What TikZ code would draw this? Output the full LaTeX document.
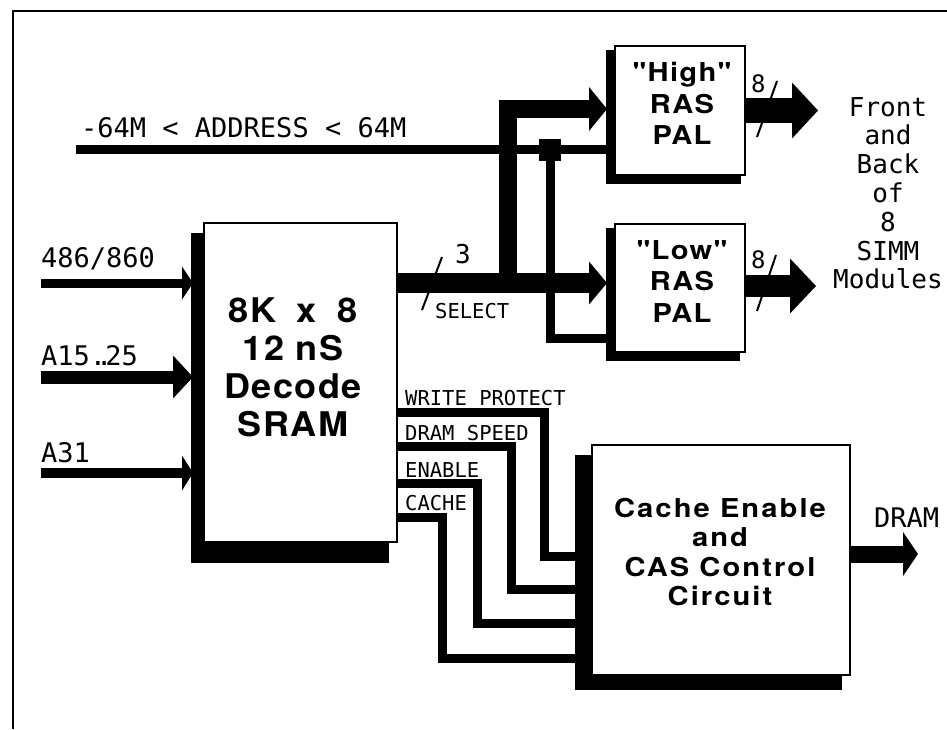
\documentclass[tikz,border=0pt]{standalone}
\usepackage{fontspec}
\usetikzlibrary{arrows.meta,calc,backgrounds}
\newfontfamily\lblfont{DejaVu Sans Mono}
\newfontfamily\sramfont{TeX Gyre Heros}[FakeStretch=1.06,LetterSpace=4]
\newfontfamily\palfont{TeX Gyre Heros}[FakeStretch=1.12,LetterSpace=5]
\newfontfamily\cachefont{TeX Gyre Heros}[FakeStretch=1.12,LetterSpace=8]
\begin{document}
\begin{tikzpicture}[x=1pt,y=-1pt,line join=miter,
  box/.style={draw,line width=1.5pt,fill=white,inner sep=0pt,outer sep=0pt},
  lbl/.style={inner sep=0pt,anchor=base west,font=\lblfont\fontsize{27}{30}\selectfont},
  smalllbl/.style={inner sep=0pt,anchor=base west,font=\lblfont\fontsize{20.5}{24}\selectfont},
  ctl/.style={line width=9pt},
  tick/.style={line width=2pt},
  blocktext/.style={anchor=north,align=center,inner sep=0pt}
]
\useasboundingbox (0,0) rectangle (947,729);

% frame
\draw[line width=1.5pt] (947,11) -- (13,11) -- (13,729);

% boxes
\node[box,minimum width=193pt,minimum height=319pt] (sram) at (300.5,382.5) {};
\node[box,minimum width=130pt,minimum height=129pt] (high) at (680,110.5) {};
\node[box,minimum width=130pt,minimum height=128pt] (low) at (680,288) {};
\node[box,minimum width=258pt,minimum height=230pt] (cache) at (721,560) {};

\begin{scope}[on background layer]
  \fill[white] (0,0) rectangle (947,729);
  \fill ($(sram.north west)+(-13,10)$) rectangle ($(sram.south east)+(-8,21)$);
  \fill ($(high.north west)+(-9,4)$) rectangle ($(high.south east)+(-4,9)$);
  \fill ($(low.north west)+(-9,4)$) rectangle ($(low.south east)+(-5,9)$);
  \fill ($(cache.north west)+(-17,10)$) rectangle ($(cache.south east)+(-8,15)$);
\end{scope}

% block texts
\node[blocktext,font=\sramfont\bfseries\fontsize{34}{38}\selectfont] (sramtxt) at (293,298)
  {8K\hspace{0.6em}x\hspace{0.6em}8\\12 nS\\Decode\\SRAM};
\node[blocktext,font=\palfont\bfseries\fontsize{26}{31.5}\selectfont] (hightxt) at (682,62)
  {"High"\\RAS\\PAL};
\node[blocktext,font=\palfont\bfseries\fontsize{26}{31.5}\selectfont] (lowtxt) at (682,240)
  {"Low"\\RAS\\PAL};
\node[blocktext,font=\cachefont\bfseries\fontsize{26}{29.5}\selectfont] (cachetxt) at (720,498)
  {Cache Enable\\and\\CAS Control\\Circuit};

% address bus
\coordinate (addr) at (76,149.5);
\draw[line width=9.5pt] (addr) -- (addr -| high.west);
\node[lbl] (addrlbl) at (81,137) {-64M < ADDRESS < 64M};
\node[fill,minimum size=22pt,inner sep=0pt] (junc) at (550,150) {};
\draw[line width=9pt] (junc.center) |- ([yshift=14pt]low.south west);

% select bus
\draw[line width=20pt,-{Triangle[length=18pt,width=43pt,line width=0pt]},shorten >=8pt]
  ([yshift=99.5pt]sram.east) -- ([yshift=5pt]low.west);
\coordinate (br) at (508,292);
\draw[line width=18pt,-{Triangle[length=18pt,width=44pt,line width=0pt]},shorten >=8pt]
  (br) |- ([yshift=1.5pt]high.west);
\draw[tick] (422,310) -- (442,257);
\node[lbl,font=\lblfont\fontsize{26}{30}\selectfont] (three) at (455,263) {3};
\node[smalllbl] (sellbl) at (435,318) {SELECT};

% outputs of PALs
\draw[line width=25pt,-{Triangle[length=26pt,width=56pt,line width=0pt]}] (high.east) -- ++(73,0);
\draw[line width=22pt,-{Triangle[length=26pt,width=55pt,line width=0pt]}] ([yshift=2pt]low.east) -- ++(71,0);
\draw[tick] (757,137) -- (777,81);
\draw[tick] (757,311) -- (776,255);
\node[lbl,font=\lblfont\fontsize{24}{28}\selectfont] (h8) at (751,92) {8};
\node[lbl,font=\lblfont\fontsize{24}{28}\selectfont] (l8) at (751,268) {8};
\node[blocktext,font=\lblfont\fontsize{26}{28.8}\selectfont] (simm) at (888,97)
  {Front\\and\\Back\\of\\8\\SIMM\\Modules};

% inputs to SRAM
\coordinate (in1) at (41,283);
\coordinate (in2) at (41,377);
\coordinate (in3) at (41,473);
\draw[line width=9pt,-{Triangle[length=11pt,width=33pt,line width=0pt]},shorten >=11pt] (in1) -- (in1 -| sram.west);
\draw[line width=13pt,-{Triangle[length=20pt,width=43pt,line width=0pt]},shorten >=11pt] (in2) -- (in2 -| sram.west);
\draw[line width=10pt,-{Triangle[length=11pt,width=35pt,line width=0pt]},shorten >=11pt] (in3) -- (in3 -| sram.west);
\node[lbl] (l486) at (41,267) {486/860};
\node[lbl] (la15) at (41,365) {A15.\kern-10pt.\kern-7pt25};
\node[lbl] (la31) at (41,462) {A31};

% control lines
\draw[ctl] ([yshift=-29.5pt]sram.east) -| ([xshift=-47.5pt,yshift=4pt]cache.west) -- ([yshift=4pt]cache.west);
\draw[ctl] ([yshift=-63.5pt]sram.east) -| ([xshift=-80.5pt,yshift=-29.5pt]cache.west) -- ([yshift=-29.5pt]cache.west);
\draw[ctl] ([yshift=-101pt]sram.east) -| ([xshift=-114.5pt,yshift=-63.5pt]cache.west) -- ([yshift=-63.5pt]cache.west);
\draw[ctl] ([yshift=-135pt]sram.east) -| ([xshift=-149.5pt,yshift=-98pt]cache.west) -- ([yshift=-98pt]cache.west);
\node[smalllbl] (wp) at (405,405) {WRITE PROTECT};
\node[smalllbl] (ds) at (405,440) {DRAM SPEED};
\node[smalllbl] (en) at (405,477) {ENABLE};
\node[smalllbl] (ca) at (405,510) {CACHE};

% DRAM output
\draw[line width=17pt,-{Triangle[length=15pt,width=44pt,line width=0pt]}] ([yshift=6pt]cache.east) -- ++(68,0);
\node[lbl] (dram) at (874,527) {DRAM};
\end{tikzpicture}
\end{document}
